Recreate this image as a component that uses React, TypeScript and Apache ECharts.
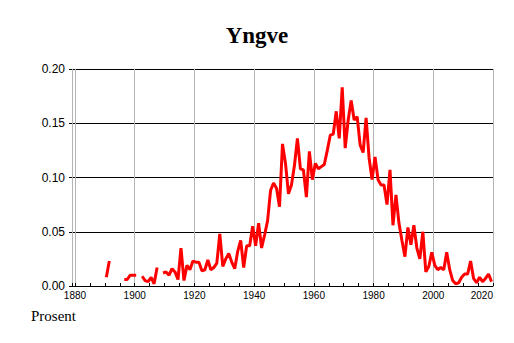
import React, { useEffect, useRef } from "react";
import * as echarts from "echarts";

// Share of population named "Yngve", in percent, per year
const firstYear = 1890;
const values: (number | null)[] = [
  // 1890-1899
  0.008, 0.023, null, null, null, null, 0.006, 0.006, 0.010, 0.010,
  // 1900-1909
  0.010, null, 0.009, 0.005, 0.004, 0.008, 0.002, 0.017, null, 0.012,
  // 1910-1919
  0.013, 0.010, 0.016, 0.013, 0.006, 0.035, 0.005, 0.019, 0.015, 0.023,
  // 1920-1929
  0.022, 0.022, 0.014, 0.015, 0.024, 0.015, 0.017, 0.021, 0.048, 0.018,
  // 1930-1939
  0.025, 0.030, 0.022, 0.016, 0.032, 0.042, 0.017, 0.037, 0.037, 0.055,
  // 1940-1949
  0.037, 0.058, 0.035, 0.047, 0.060, 0.088, 0.095, 0.090, 0.073, 0.131,
  // 1950-1959
  0.113, 0.085, 0.093, 0.111, 0.136, 0.108, 0.107, 0.082, 0.124, 0.098,
  // 1960-1969
  0.113, 0.108, 0.110, 0.112, 0.125, 0.139, 0.140, 0.161, 0.136, 0.183,
  // 1970-1979
  0.127, 0.153, 0.171, 0.153, 0.156, 0.130, 0.123, 0.155, 0.118, 0.098,
  // 1980-1989
  0.119, 0.098, 0.093, 0.093, 0.075, 0.107, 0.056, 0.084, 0.058, 0.042,
  // 1990-1999
  0.027, 0.054, 0.038, 0.056, 0.035, 0.025, 0.050, 0.013, 0.018, 0.031,
  // 2000-2009
  0.019, 0.015, 0.017, 0.015, 0.031, 0.015, 0.005, 0.002, 0.003, 0.008,
  // 2010-2019
  0.011, 0.011, 0.023, 0.007, 0.003, 0.008, 0.004, 0.007, 0.011, 0.004,
];
const years: number[] = values.map((_, i) => firstYear + i);

// yearly values are drawn at mid-year
const midYear = 0.5;

const xMin = 1879;
const xMax = 2020;
const yMin = 0;
const yMax = 0.2;
const yStep = 0.05;

const titleText = "Yngve";
const unitText = "Prosent";

export default function App() {
  const ref = useRef<HTMLDivElement>(null);

  useEffect(() => {
    if (!ref.current) return;
    const chart = echarts.init(ref.current, undefined, { renderer: "svg" });
    const data = years.map((y, i) => [y + midYear, values[i]]);
    chart.setOption({
      animation: false,
      backgroundColor: "#ffffff",
      title: {
        text: titleText,
        left: "center",
        top: 19,
        textStyle: {
          fontFamily: '"Liberation Serif", "Times New Roman", serif',
          fontWeight: "bold",
          fontSize: 23,
          color: "#000",
        },
      },
      graphic: [
        {
          type: "text",
          left: 31,
          top: 308,
          style: {
            text: unitText,
            font: '15px "Liberation Serif", "Times New Roman", serif',
            fill: "#000",
          },
        },
      ],
      grid: { left: 72, right: 21, top: 69, bottom: 57, containLabel: false },
      xAxis: [
        {
          type: "value",
          min: xMin,
          max: xMax,
          splitNumber: 7,
          minInterval: 20,
          maxInterval: 20,
          axisLine: { show: true, lineStyle: { color: "#000", width: 1 } },
          axisTick: { show: false },
          axisLabel: {
            showMinLabel: false,
            alignMaxLabel: "right",
            color: "#000",
            fontSize: 10,
            fontFamily: '"Liberation Sans", Arial, sans-serif',
            margin: 4,
            formatter: (v: number) => String(v),
          },
          splitLine: { show: true, lineStyle: { color: "#b4b4b4", width: 1 } },
        },
        {
          type: "value",
          min: xMin,
          max: xMax,
          splitNumber: 28,
          minInterval: 5,
          maxInterval: 5,
          position: "bottom",
          axisLine: { show: false },
          axisTick: { show: true, inside: true, length: 3, lineStyle: { color: "#000" } },
          axisLabel: { show: false },
          splitLine: { show: false },
        },
      ],
      yAxis: {
        type: "value",
        min: yMin,
        max: yMax,
        interval: yStep,
        axisLine: { show: true, lineStyle: { color: "#b4b4b4", width: 1 } },
        axisTick: { show: true, length: 3, lineStyle: { color: "#000" } },
        axisLabel: {
          color: "#000",
          fontSize: 12,
          fontFamily: '"Liberation Sans", Arial, sans-serif',
          margin: 7,
          formatter: (v: number) => v.toFixed(2),
        },
        splitLine: { show: true, lineStyle: { color: "#000", width: 1 } },
      },
      series: [
        {
          type: "line",
          xAxisIndex: 0,
          yAxisIndex: 0,
          data,
          showSymbol: false,
          symbol: "none",
          connectNulls: false,
          lineStyle: { color: "#ff0000", width: 3 },
          silent: true,
        },
      ],
    });
    return () => chart.dispose();
  }, []);

  return (
    <div
      ref={ref}
      style={{ position: "absolute", left: 0, top: 0, width: 514, height: 343 }}
    />
  );
}
